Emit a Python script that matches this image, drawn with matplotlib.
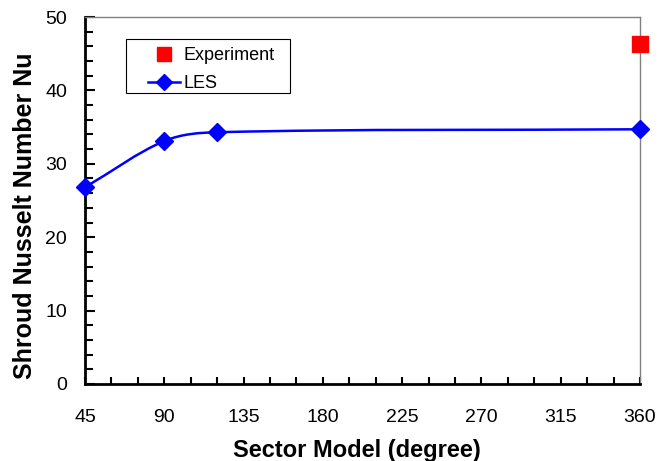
import matplotlib.pyplot as plt
from matplotlib.path import Path
from matplotlib.patches import PathPatch, Rectangle
from matplotlib.lines import Line2D
from matplotlib.ticker import MultipleLocator

plt.rcParams['font.family'] = ['Liberation Sans', 'DejaVu Sans']

sector = [45, 90, 120, 360]
les_nu = [26.8, 33.1, 34.3, 34.7]
exp_sector = [360]
exp_nu = [46.3]

def smooth_path(xs, ys):
    # Hermite curve through the points (like excel's smoothed line), as bezier
    n = len(xs)
    slopes = []
    for i in range(n):
        a = max(i - 1, 0)
        b = min(i + 1, n - 1)
        slopes.append((ys[b] - ys[a]) / (xs[b] - xs[a]))
    verts = [(xs[0], ys[0])]
    codes = [Path.MOVETO]
    for i in range(n - 1):
        h = xs[i + 1] - xs[i]
        verts += [(xs[i] + h / 3, ys[i] + slopes[i] * h / 3),
                  (xs[i + 1] - h / 3, ys[i + 1] - slopes[i + 1] * h / 3),
                  (xs[i + 1], ys[i + 1])]
        codes += [Path.CURVE4] * 3
    return Path(verts, codes)

W, H = 667, 461
L, R, T, B = 85, 640, 17, 384
fig = plt.figure(figsize=(W / 100, H / 100), dpi=100)
ax = fig.add_axes([L / W, 1 - B / H, (R - L) / W, (B - T) / H])

def axfrac(px, py):
    return (px - L) / (R - L), (B - py) / (B - T)

blue = '#0000ff'
ax.add_patch(PathPatch(smooth_path(sector, les_nu), fill=False, edgecolor=blue, lw=1.8, zorder=2))
ax.plot(sector, les_nu, linestyle='none', marker='D', markersize=9, color=blue, zorder=3, clip_on=False)
ax.plot(exp_sector, exp_nu, linestyle='none', marker='s', markersize=12, color='#ff0000', zorder=3, clip_on=False)

ax.set_xlim(45, 360)
ax.set_ylim(0, 50)
ax.xaxis.set_major_locator(MultipleLocator(45))
ax.xaxis.set_minor_locator(MultipleLocator(15))
ax.yaxis.set_major_locator(MultipleLocator(10))
ax.yaxis.set_minor_locator(MultipleLocator(2))
ax.tick_params(axis='both', which='both', direction='in', labelsize=14, colors='black', width=1.5)
ax.tick_params(axis='x', which='both', length=5, pad=18)
ax.tick_params(axis='y', which='major', length=7, pad=13)
ax.tick_params(axis='y', which='minor', length=6)

for s in ['left', 'bottom']:
    ax.spines[s].set_color('black')
    ax.spines[s].set_linewidth(2)
for s in ['top', 'right']:
    ax.spines[s].set_color('#808080')
    ax.spines[s].set_linewidth(1)

ax.set_xlabel('Sector Model (degree)', fontsize=17, fontweight='bold')
ax.set_ylabel('Shroud Nusselt Number Nu', fontsize=18, fontweight='bold')
ax.xaxis.set_label_coords(*axfrac(357, 439))
ax.yaxis.set_label_coords(*axfrac(37, 216))

# legend box drawn by hand so the padding matches
x0, y0 = axfrac(126, 93)
x1, y1 = axfrac(290, 39)
ax.add_patch(Rectangle((x0, y0), x1 - x0, y1 - y0, transform=ax.transAxes,
                       facecolor='white', edgecolor='black', lw=0.8, zorder=4))

handles = [
    Line2D([], [], linestyle='none', marker='s', markersize=10, color='#ff0000'),
    Line2D([], [], color=blue, lw=1.8, marker='D', markersize=8.5),
]
leg = ax.legend(handles, ['Experiment', 'LES'], loc='upper left', bbox_to_anchor=axfrac(148, 47),
                fontsize=13, frameon=False, borderpad=0, borderaxespad=0,
                handlelength=1.75, labelspacing=0.6, handletextpad=0.2)
leg.set_zorder(5)

fig.savefig('out.png', dpi=100)
